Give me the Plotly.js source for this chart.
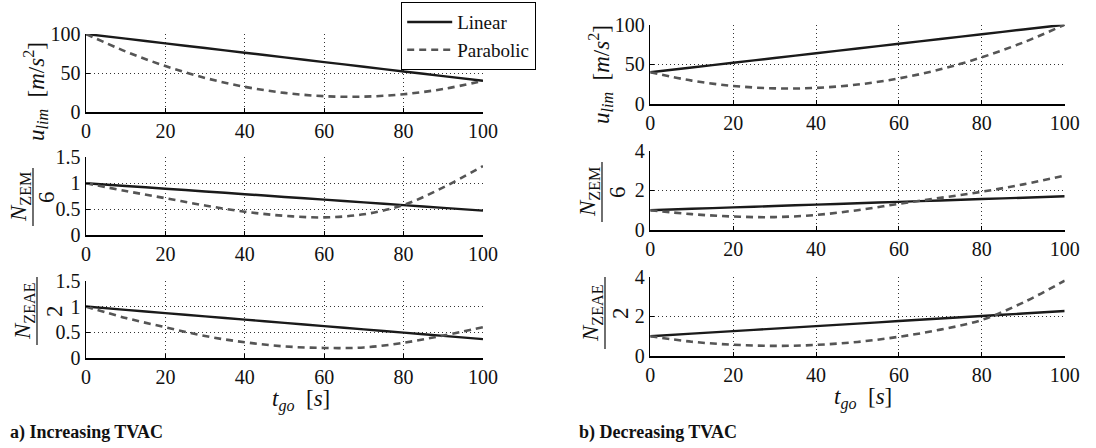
<!DOCTYPE html>
<html>
<head>
<meta charset="utf-8">
<script src="https://cdn.plot.ly/plotly-3.0.1.min.js"></script>
<style>html,body{margin:0;padding:0;background:#fff;}#chart{width:1096px;height:448px;}</style>
</head>
<body>
<div id="chart"></div>
<script>
// time-to-go samples [s]
const tgo = [0, 10, 20, 30, 40, 50, 60, 70, 80, 90, 100];

// a) Increasing TVAC
const incUlimLinear    = [100, 94, 88, 82, 76, 70, 64, 58, 52, 46, 40];
const incUlimParabolic = [100, 77.6, 58.9, 43.7, 32.3, 24.5, 20.3, 19.7, 22.8, 29.5, 40];
const incZemLinear     = [1.0, 0.947, 0.894, 0.841, 0.788, 0.735, 0.682, 0.629, 0.576, 0.523, 0.47];
const incZemParabolic  = [1.0, 0.85, 0.71, 0.57, 0.45, 0.37, 0.34, 0.40, 0.58, 0.92, 1.33];
const incZeaeLinear    = [1.0, 0.937, 0.874, 0.811, 0.748, 0.685, 0.622, 0.559, 0.496, 0.433, 0.37];
const incZeaeParabolic = [1.0, 0.78, 0.60, 0.43, 0.31, 0.23, 0.20, 0.21, 0.30, 0.44, 0.60];

// b) Decreasing TVAC
const decUlimLinear    = [40, 46, 52, 58, 64, 70, 76, 82, 88, 94, 100];
const decUlimParabolic = [40, 29.5, 22.8, 19.7, 20.3, 24.5, 32.3, 43.7, 58.9, 77.6, 100];
const decZemLinear     = [1.0, 1.07, 1.14, 1.21, 1.28, 1.35, 1.42, 1.49, 1.56, 1.63, 1.70];
const decZemParabolic  = [1.0, 0.80, 0.68, 0.65, 0.76, 1.0, 1.32, 1.62, 1.93, 2.30, 2.75];
const decZeaeLinear    = [1.0, 1.127, 1.254, 1.381, 1.508, 1.635, 1.762, 1.889, 2.016, 2.143, 2.27];
const decZeaeParabolic = [1.0, 0.72, 0.57, 0.51, 0.56, 0.71, 0.97, 1.33, 1.82, 2.70, 3.80];

const seriesNames = ['Linear', 'Parabolic'];
const xTicks = [0, 20, 40, 60, 80, 100];

const W = 1096, H = 448;
const serif = 'Liberation Serif';
const solidStyle = {color: '#1a1a1a', width: 2.4};
const dashStyle = {color: '#555555', width: 2.6, dash: '7px,5px'};

function px(x) { return x / W; }
function py(y) { return 1 - y / H; }

const panels = [
  {lin: incUlimLinear, par: incUlimParabolic, xd: [86, 483], yd: [34, 112], range: [0, 100], dtick: 50},
  {lin: incZemLinear, par: incZemParabolic, xd: [86, 483], yd: [157.3, 235], range: [0, 1.5], dtick: 0.5},
  {lin: incZeaeLinear, par: incZeaeParabolic, xd: [86, 483], yd: [280.7, 358.3], range: [0, 1.5], dtick: 0.5},
  {lin: decUlimLinear, par: decUlimParabolic, xd: [650.3, 1064.7], yd: [24.7, 104], range: [0, 100], dtick: 50},
  {lin: decZemLinear, par: decZemParabolic, xd: [650.3, 1064.7], yd: [150.7, 230], range: [0, 4], dtick: 2},
  {lin: decZeaeLinear, par: decZeaeParabolic, xd: [650.3, 1064.7], yd: [276.7, 356], range: [0, 4], dtick: 2}
];

const data = [];
const layout = {
  width: W, height: H,
  margin: {l: 0, r: 0, t: 0, b: 0},
  paper_bgcolor: '#fff', plot_bgcolor: 'rgba(0,0,0,0)',
  font: {family: serif, size: 18, color: '#111'},
  showlegend: true,
  legend: {
    x: px(401), y: py(2), xanchor: 'left', yanchor: 'top',
    bgcolor: '#fff', bordercolor: '#000', borderwidth: 1.2,
    font: {family: serif, size: 19, color: '#111'},
    itemwidth: 45, tracegroupgap: 0, traceorder: 'normal'
  },
  annotations: [], shapes: []
};

panels.forEach((p, i) => {
  const k = i === 0 ? '' : String(i + 1);
  const xa = 'x' + k, ya = 'y' + k;
  data.push({x: tgo, y: p.lin, xaxis: xa, yaxis: ya, type: 'scatter', mode: 'lines',
    name: seriesNames[0], showlegend: i === 0, line: Object.assign({shape: 'spline'}, solidStyle), hoverinfo: 'skip'});
  data.push({x: tgo, y: p.par, xaxis: xa, yaxis: ya, type: 'scatter', mode: 'lines',
    name: seriesNames[1], showlegend: i === 0, line: Object.assign({shape: 'spline', smoothing: 1}, dashStyle), hoverinfo: 'skip'});
  layout['xaxis' + k] = {
    domain: [px(p.xd[0]), px(p.xd[1])], anchor: ya, range: [0, 100],
    tickvals: xTicks, ticktext: xTicks.map(String),
    showgrid: true, gridcolor: '#333', griddash: '1px,3px', gridwidth: 1,
    showline: true, linecolor: '#000', linewidth: 1.5,
    ticks: 'inside', ticklen: 4, tickcolor: '#000',
    zeroline: false, tickfont: {family: serif, size: 20, color: '#111'}
  };
  const yt = [];
  for (let v = p.range[0]; v <= p.range[1] + 1e-9; v += p.dtick) yt.push(+v.toFixed(2));
  layout['yaxis' + k] = {
    domain: [py(p.yd[1]), py(p.yd[0])], anchor: xa, range: p.range,
    tickvals: yt, ticktext: yt.map(String),
    showgrid: true, gridcolor: '#333', griddash: '1px,3px', gridwidth: 1,
    showline: true, linecolor: '#000', linewidth: 1.5,
    ticks: 'inside', ticklen: 4, tickcolor: '#000',
    zeroline: false, tickfont: {family: serif, size: 20, color: '#111'}
  };
});

// Y-axis labels
function ann(text, x, y, size, angle) {
  layout.annotations.push({text: text, x: px(x), y: py(y), xref: 'paper', yref: 'paper',
    showarrow: false, textangle: angle, font: {family: serif, size: size, color: '#111'},
    xanchor: 'center', yanchor: 'middle'});
}
const ulim = '<i>u</i><sub><i>lim</i></sub>  [<i>m</i>/<i>s</i><sup>2</sup>]';
ann(ulim, 36, 92, 23, -90);
ann(ulim, 600, 75, 23, -90);

function frac(num, den, xNum, xBar, xDen, yc, half) {
  ann(num, xNum, yc, 23, -90);
  ann(den, xDen, yc, 23, -90);
  layout.shapes.push({type: 'line', xref: 'paper', yref: 'paper',
    x0: px(xBar), x1: px(xBar), y0: py(yc - half), y1: py(yc + half),
    line: {color: '#222', width: 1.3}});
}
const zem = '<i>N</i><sub>ZEM</sub>';
const zeae = '<i>N</i><sub>ZEAE</sub>';
frac(zem, '6', 20, 33, 47, 197, 29);
frac(zeae, '2', 24, 37, 54, 311, 34);
frac(zem, '6', 589, 602, 617, 192, 30);
frac(zeae, '2', 592, 605, 620, 313, 36);

// X-axis labels
const tlabel = '<i>t</i><sub><i>go</i></sub>  [<i>s</i>]';
ann(tlabel, 301, 400, 23, 0);
ann(tlabel, 863, 398, 23, 0);

// Panel captions
layout.annotations.push({text: '<b>a) Increasing TVAC</b>', x: px(8), y: py(432), xref: 'paper', yref: 'paper',
  showarrow: false, xanchor: 'left', yanchor: 'middle', font: {family: serif, size: 18, color: '#111'}});
layout.annotations.push({text: '<b>b) Decreasing TVAC</b>', x: px(577), y: py(432), xref: 'paper', yref: 'paper',
  showarrow: false, xanchor: 'left', yanchor: 'middle', font: {family: serif, size: 18, color: '#111'}});

Plotly.newPlot('chart', data, layout, {displayModeBar: false, staticPlot: true});
</script>
</body>
</html>
